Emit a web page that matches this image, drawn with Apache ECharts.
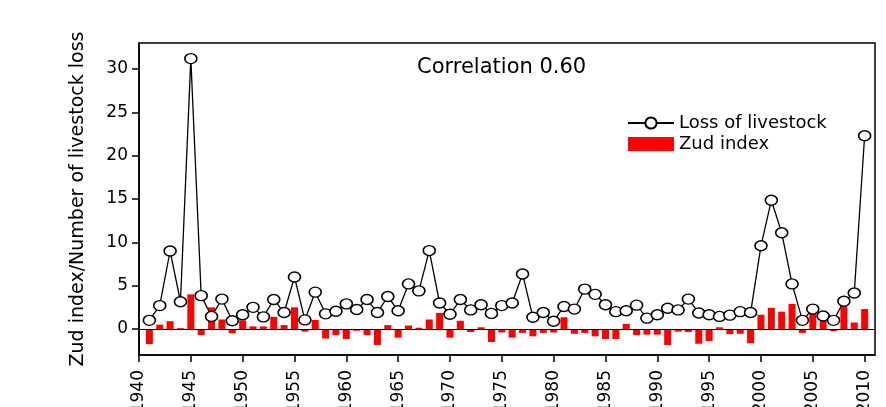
<!DOCTYPE html>
<html>
<head>
<meta charset="utf-8">
<script src="https://cdn.jsdelivr.net/npm/echarts@6/dist/echarts.min.js"></script>
<style>
    html, body { margin: 0; padding: 0; background: #fff; }
    #main { width: 886px; height: 407px; }
</style>
</head>
<body>
<div id="main"></div>
<script>
// data
const years = [1941, 1942, 1943, 1944, 1945, 1946, 1947, 1948, 1949, 1950,
    1951, 1952, 1953, 1954, 1955, 1956, 1957, 1958, 1959, 1960,
    1961, 1962, 1963, 1964, 1965, 1966, 1967, 1968, 1969, 1970,
    1971, 1972, 1973, 1974, 1975, 1976, 1977, 1978, 1979, 1980,
    1981, 1982, 1983, 1984, 1985, 1986, 1987, 1988, 1989, 1990,
    1991, 1992, 1993, 1994, 1995, 1996, 1997, 1998, 1999, 2000,
    2001, 2002, 2003, 2004, 2005, 2006, 2007, 2008, 2009, 2010]

const livestockLoss = [1.0, 2.7, 9.0, 3.15, 31.2, 3.85, 1.45, 3.45, 0.95, 1.65,
    2.5, 1.4, 3.4, 1.9, 6.0, 1.05, 4.25, 1.75, 2.05, 2.9,
    2.25, 3.4, 1.9, 3.75, 2.1, 5.2, 4.4, 9.05, 3.0, 1.7,
    3.4, 2.2, 2.8, 1.8, 2.7, 3.0, 6.35, 1.35, 1.9, 0.9,
    2.6, 2.3, 4.6, 4.0, 2.8, 2.0, 2.1, 2.75, 1.25, 1.65,
    2.4, 2.2, 3.45, 1.85, 1.65, 1.45, 1.6, 2.0, 1.9, 9.6,
    14.85, 11.1, 5.2, 1.0, 2.3, 1.5, 1.0, 3.2, 4.15, 22.3]

const zudIndex = [-1.75, 0.5, 0.9, 0.1, 4.0, -0.7, 2.5, 1.1, -0.5, 1.0,
    0.3, 0.3, 1.4, 0.45, 2.5, -0.3, 1.05, -1.1, -0.7, -1.15,
    -0.2, -0.7, -1.85, 0.45, -1.0, 0.4, 0.15, 1.1, 1.85, -1.0,
    0.95, -0.35, 0.2, -1.5, -0.4, -1.0, -0.45, -0.85, -0.45, -0.4,
    1.35, -0.55, -0.45, -0.85, -1.15, -1.15, 0.6, -0.7, -0.65, -0.65,
    -1.85, -0.3, -0.35, -1.7, -1.4, 0.2, -0.6, -0.55, -1.65, 1.65,
    2.45, 2.0, 2.9, -0.45, 2.6, 1.1, -0.25, 2.6, 0.75, 2.3]

const xTicks = [1940, 1945, 1950, 1955, 1960, 1965, 1970, 1975, 1980, 1985, 1990, 1995, 2000, 2005, 2010]
const yTicks = [0, 5, 10, 15, 20, 25, 30]

const font = '"DejaVu Sans", sans-serif'

const chart = echarts.init(document.getElementById('main'), null, { renderer: 'canvas' })

chart.setOption({
    animation: false,
    backgroundColor: '#fff',
    grid: {
        left: 139,
        right: 11,
        top: 43,
        bottom: 52,
        outerBoundsMode: 'none', // labels are allowed to run off the bottom
        show: true,
        borderColor: '#000',
        borderWidth: 1.5,
        backgroundColor: 'transparent'
    },
    graphic: [{
        type: 'text',
        left: 417,
        top: 57,
        style: {
            text: 'Correlation 0.60',
            font: '21px ' + font,
            fill: '#000'
        }
    }],
    legend: {
        left: 622,
        top: 109,
        orient: 'vertical',
        itemWidth: 46,
        itemHeight: 14,
        itemGap: 3,
        textStyle: { fontFamily: font, fontSize: 18, color: '#000' },
        data: ['Loss of livestock', { name: 'Zud index', icon: 'rect' }]
    },
    xAxis: {
        type: 'value',
        min: 1940,
        max: 2011,
        splitLine: { show: false },
        axisLine: { show: true, onZero: false, lineStyle: { color: '#000', width: 1.5 } },
        axisTick: { show: true, length: 7, customValues: xTicks, lineStyle: { color: '#000', width: 1.5 } },
        axisLabel: {
            customValues: xTicks,
            rotate: 90,
            margin: 15,
            fontFamily: font,
            fontSize: 17,
            color: '#000',
            formatter: v => String(v)
        }
    },
    yAxis: {
        type: 'value',
        min: -3,
        max: 33,
        name: 'Zud index/Number of livestock loss',
        nameLocation: 'middle',
        nameGap: 51,
        nameTextStyle: { fontFamily: font, fontSize: 19, color: '#000' },
        splitLine: { show: false },
        axisLine: { show: true, onZero: false, lineStyle: { color: '#000', width: 1.5 } },
        axisTick: { show: true, length: 7, customValues: yTicks, lineStyle: { color: '#000', width: 1.5 } },
        axisLabel: {
            customValues: yTicks,
            margin: 11,
            fontFamily: font,
            fontSize: 17,
            color: '#000'
        }
    },
    series: [
        {
            name: 'Zud index',
            type: 'bar',
            barWidth: 7,
            itemStyle: { color: '#ff0000' },
            data: years.map((y, i) => [y, zudIndex[i]]),
            markLine: {
                silent: true,
                symbol: 'none',
                label: { show: false },
                lineStyle: { color: '#000', width: 1, type: 'solid' },
                data: [{ yAxis: 0 }]
            },
            z: 2
        },
        {
            name: 'Loss of livestock',
            type: 'line',
            symbol: 'circle',
            symbolSize: [12, 10],
            lineStyle: { color: '#000', width: 1.3 },
            itemStyle: { color: '#fff', borderColor: '#000', borderWidth: 1.5 },
            data: years.map((y, i) => [y, livestockLoss[i]]),
            z: 3
        }
    ]
})
</script>
</body>
</html>
